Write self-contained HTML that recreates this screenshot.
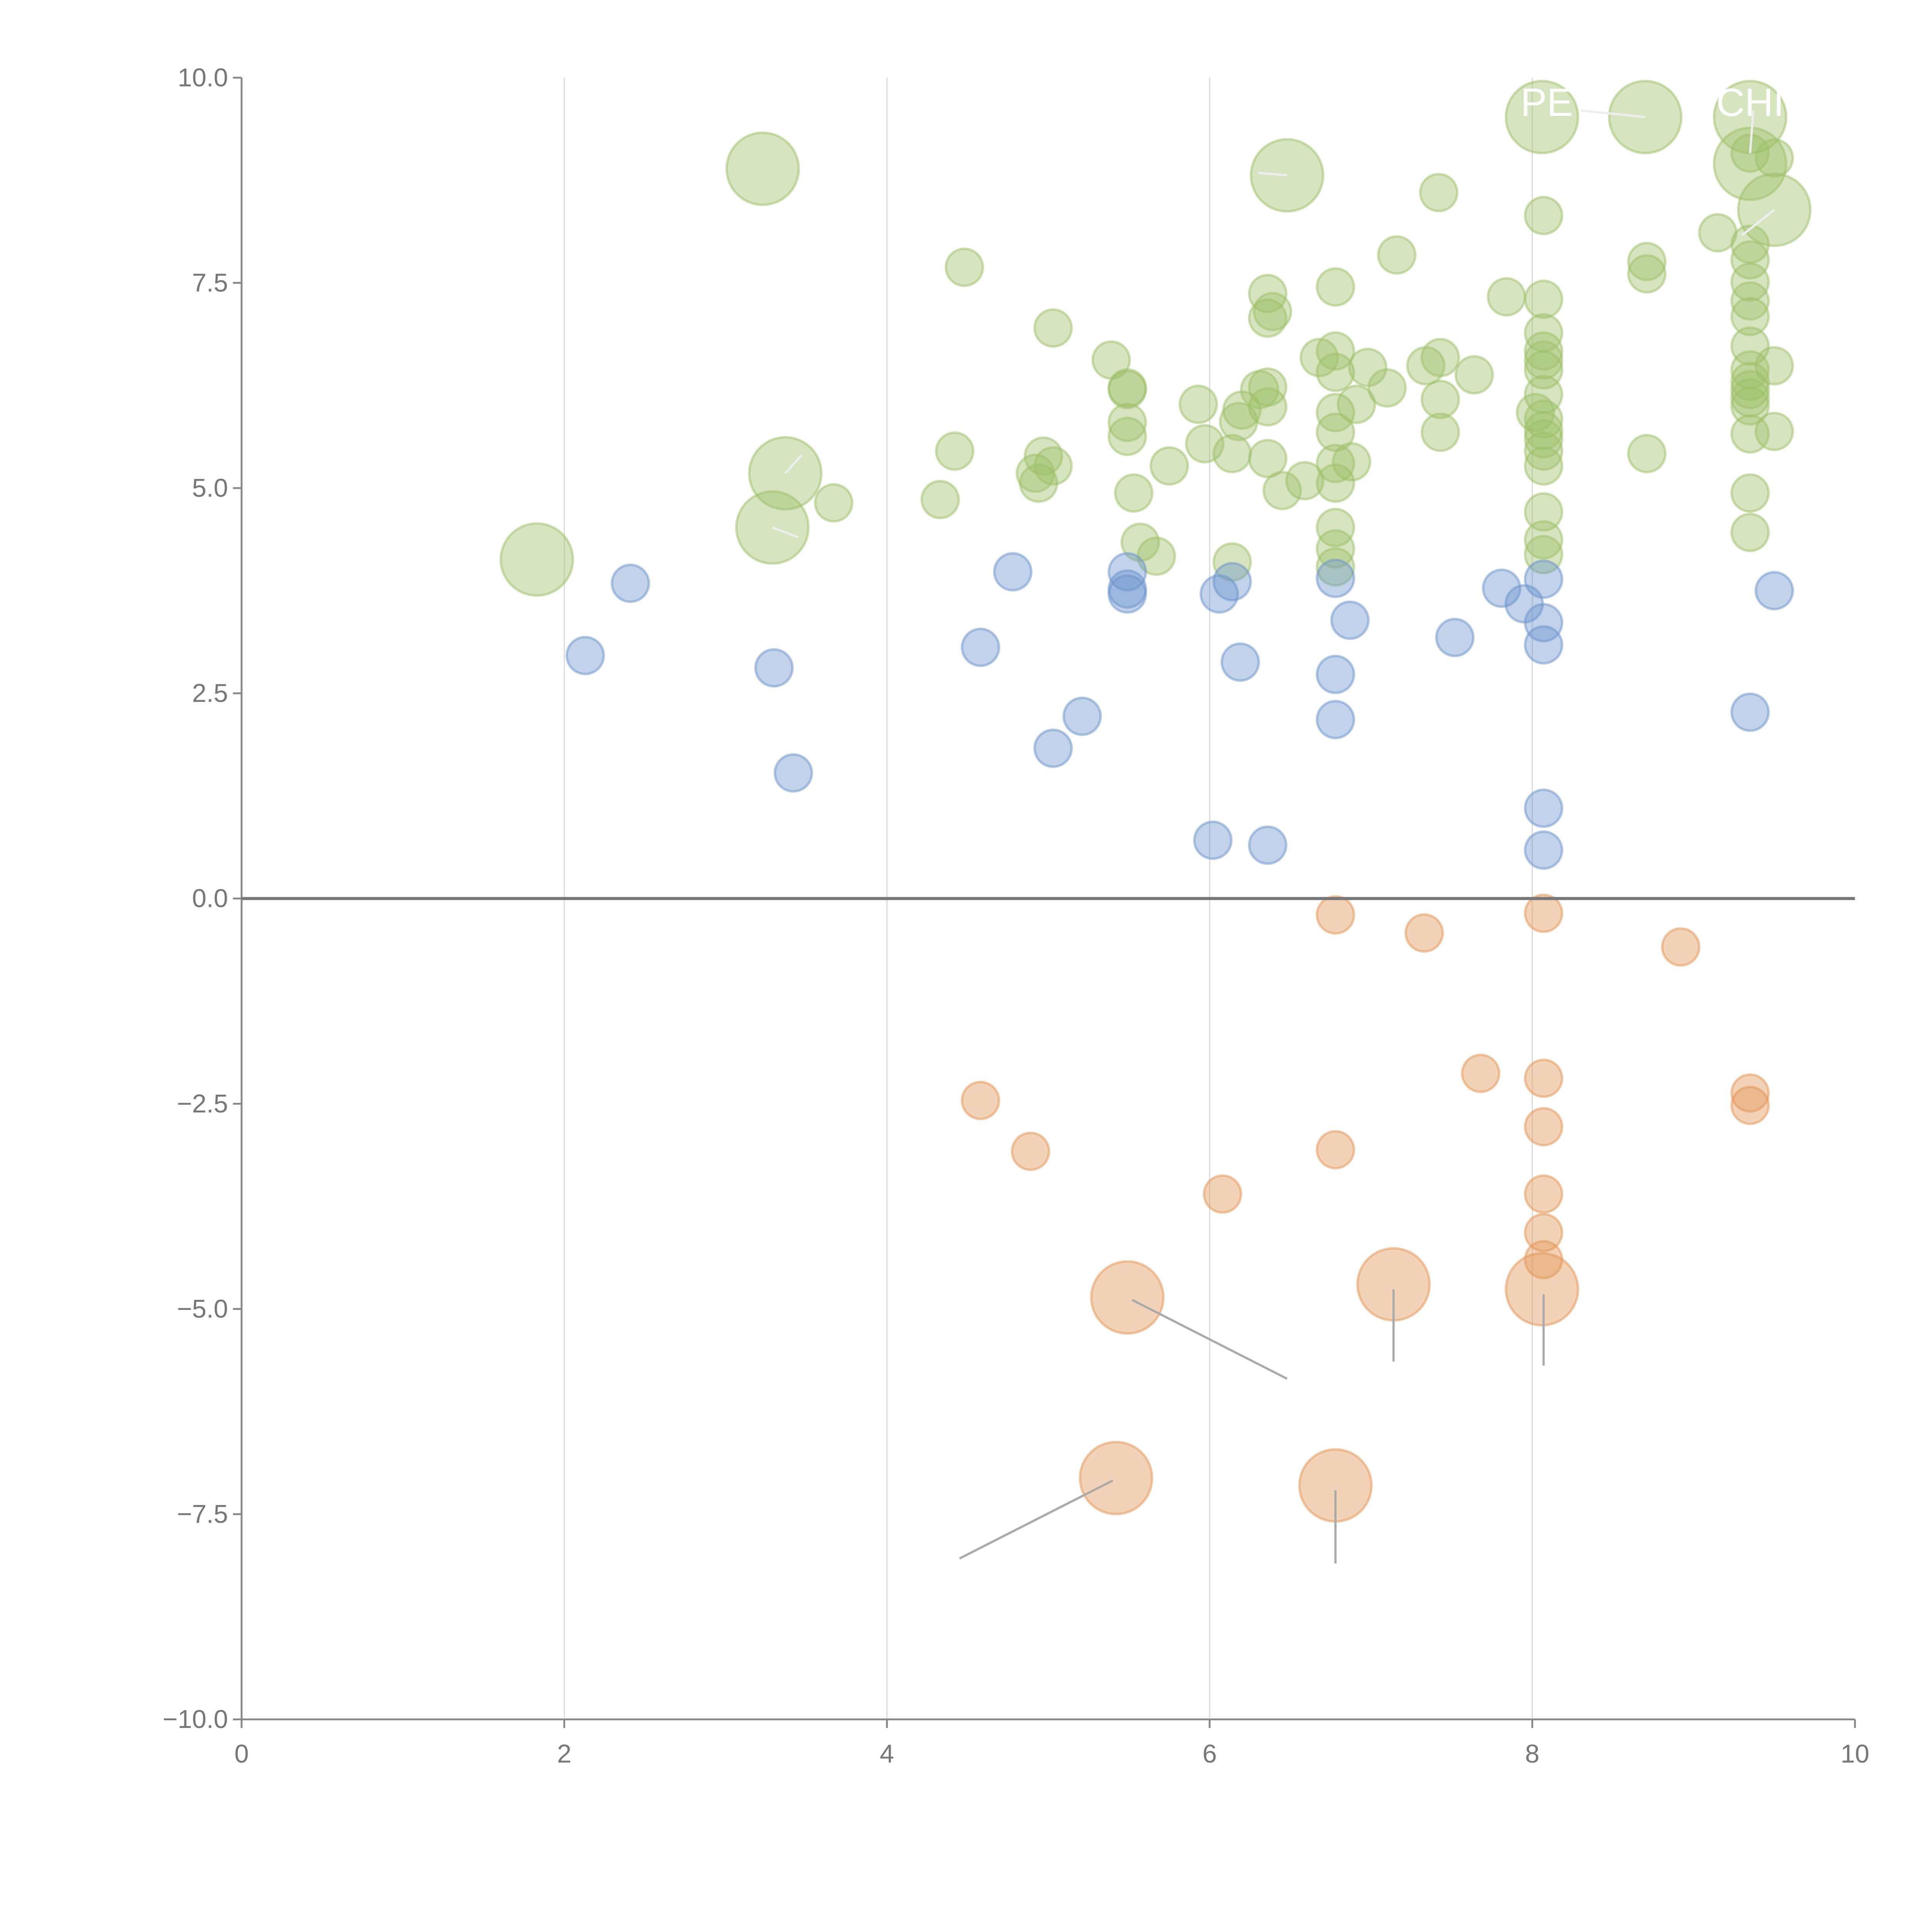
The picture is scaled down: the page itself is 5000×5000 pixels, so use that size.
<!DOCTYPE html>
<html><head><meta charset="utf-8"><style>
html,body{margin:0;padding:0;background:#fff;}
svg{display:block;}
text{font-family:"Liberation Sans",sans-serif;}
</style></head><body>
<svg id="chart" width="5000" height="5000" viewBox="0 0 1567.5 1567.5" xmlns="http://www.w3.org/2000/svg">
<g id="grid"></g>
<g id="bubbles"></g>
<g id="axes"></g>
</svg>
<script>
const xTicks=[0,2,4,6,8,10];
const yTicks=[10,7.5,5,2.5,0,-2.5,-5,-7.5,-10];
const yTickLabels=["10.0","7.5","5.0","2.5","0.0","\u22122.5","\u22125.0","\u22127.5","\u221210.0"];
const blueX=[2.41,2.13,3.30,3.42,4.58,4.78,5.03,5.21,5.49,5.49,5.49,6.06,6.14,6.19,6.02,6.36,6.78,6.78,6.78,6.87,7.52,7.81,7.95,8.07,8.07,8.07,8.07,8.07,9.35,9.50];
const blueY=[3.84,2.96,2.81,1.53,3.06,3.98,1.83,2.22,3.98,3.77,3.71,3.71,3.86,2.88,0.71,0.65,3.90,2.73,2.18,3.39,3.18,3.78,3.59,3.89,3.36,3.09,1.10,0.59,2.27,3.75];
const orangeX=[6.78,7.33,8.07,8.92,4.58,4.89,6.08,6.78,7.68,8.07,8.07,8.07,8.07,8.07,9.35,9.35,5.49,7.14,8.06,5.42,6.78];
const orangeY=[-0.20,-0.42,-0.18,-0.59,-2.46,-3.08,-3.60,-3.06,-2.13,-2.19,-2.78,-3.60,-4.07,-4.40,-2.37,-2.52,-4.86,-4.70,-4.76,-7.06,-7.15];
const orangeSize=[1,1,1,1,1,1,1,1,1,1,1,1,1,1,1,1,3.8,3.8,3.8,3.8,3.8];
const greenX=[3.23,6.48,3.37,3.29,1.83,8.06,8.70,9.35,9.35,9.50,
4.48,5.03,5.39,5.49,5.49,5.49,5.49,5.53,5.57,5.67,4.42,4.33,3.67,4.97,4.92,4.94,5.03,5.75,5.93,5.97,6.14,6.14,6.18,6.20,6.31,6.36,6.36,6.36,6.36,6.39,6.36,6.45,6.59,6.68,
6.78,6.78,6.78,6.78,6.78,6.78,6.78,6.78,6.78,6.78,6.88,6.91,6.98,7.10,7.16,7.42,7.34,7.43,7.43,7.43,7.64,7.84,8.02,
8.07,8.07,8.07,8.07,8.07,8.07,8.07,8.07,8.07,8.07,8.07,8.07,8.07,8.07,8.07,
8.71,8.71,8.71,9.15,9.35,9.35,9.35,9.35,9.35,9.35,9.35,9.35,9.35,9.35,9.35,9.35,9.35,9.35,9.50,9.50,9.50,9.35];
const greenY=[8.89,8.81,5.18,4.52,4.13,9.52,9.52,9.52,8.95,8.39,
7.69,6.95,6.56,6.22,6.20,5.80,5.63,4.94,4.34,4.17,5.45,4.86,4.82,5.39,5.18,5.06,5.27,5.27,6.02,5.54,5.42,4.10,5.81,5.95,6.20,6.23,5.99,7.37,7.07,7.15,5.36,4.97,5.09,6.59,
7.45,6.67,6.41,5.92,5.68,5.30,5.06,4.52,4.26,4.04,5.32,6.02,6.47,6.22,7.84,8.60,6.49,6.59,6.08,5.68,6.38,7.33,5.92,
8.32,7.30,6.89,6.67,6.56,6.44,6.14,5.84,5.60,5.45,5.27,4.71,4.37,4.19,5.70,
7.76,7.61,5.42,8.11,7.97,7.78,7.51,7.28,7.09,6.73,6.44,6.30,6.20,6.10,6.00,5.66,4.94,4.46,6.49,5.69,9.02,9.08];
const greenSize=greenX.map((_,i)=>i<10?3.8:1);
const blueSize=blueX.map(()=>1);

const X0=196,X1=1505,Y0=1395,Y1=63;
const sx=v=>X0+(v-0)/(10-0)*(X1-X0);
const sy=v=>Y0-(v+10)/20*(Y0-Y1);
const sr=s=>15*Math.sqrt(s);
const NS="http://www.w3.org/2000/svg";
function mk(tag,attrs,parent){const e=document.createElementNS(NS,tag);for(const k in attrs)e.setAttribute(k,attrs[k]);parent.appendChild(e);return e;}
const grid=document.getElementById('grid'),bub=document.getElementById('bubbles'),axes=document.getElementById('axes');

xTicks.forEach(t=>{if(t>0&&t<10){const l=mk('line',{x1:sx(t),x2:sx(t),y1:Y1,y2:Y0,stroke:'#dcdcdc','stroke-width':1},grid);

}});

function series(xs,ys,ss,color,name){
  xs.forEach((x,i)=>{const c=mk('circle',{cx:sx(x),cy:sy(ys[i]),r:sr(ss[i]),fill:color,'fill-opacity':0.42,stroke:color,'stroke-opacity':0.5,'stroke-width':2},bub);
  
  });
}
series(greenX,greenY,greenSize,'#9dc068','green-bubble');
series(blueX,blueY,blueSize,'#6b93cc','blue-bubble');
series(orangeX,orangeY,orangeSize,'#e39655','orange-bubble');

const leaders=[[5.52,-4.89,6.48,-5.85,'#aaa'],[7.14,-4.76,7.14,-5.64,'#aaa'],[8.07,-4.82,8.07,-5.69,'#aaa'],[5.40,-7.09,4.45,-8.04,'#aaa'],[6.78,-7.21,6.78,-8.10,'#aaa'],
[3.37,5.18,3.47,5.40,'#eee'],[3.29,4.52,3.45,4.40,'#eee'],[6.48,8.81,6.30,8.84,'#eee'],[8.70,9.52,8.30,9.60,'#eee'],[9.35,9.08,9.37,9.60,'#eee'],[9.50,8.39,9.30,8.08,'#eee']];
leaders.forEach(d=>{const l=mk('line',{x1:sx(d[0]),y1:sy(d[1]),x2:sx(d[2]),y2:sy(d[3]),stroke:d[4],'stroke-width':1.8},bub);

});
[['PE',1255,94],['CHI',1420,94]].forEach(d=>{const t=mk('text',{x:d[1],y:d[2],'text-anchor':'middle','font-size':32,fill:'#fff'},bub);t.textContent=d[0];

});

let a=mk('line',{x1:X0,x2:X0,y1:Y1,y2:Y0,stroke:'#888','stroke-width':1.5},axes);


a=mk('line',{x1:X0,x2:X1,y1:Y0,y2:Y0,stroke:'#888','stroke-width':1.5},axes);


a=mk('line',{x1:X0,x2:X1,y1:sy(0),y2:sy(0),stroke:'#777','stroke-width':2.5},axes);


yTicks.forEach((t,i)=>{const tk=mk('line',{x1:X0-7,x2:X0,y1:sy(t),y2:sy(t),stroke:'#888','stroke-width':1.5},axes);


const tx=mk('text',{x:X0-11,y:sy(t)+7,'text-anchor':'end','font-size':21,fill:'#777'},axes);tx.textContent=yTickLabels[i];

});
xTicks.forEach(t=>{const tk=mk('line',{x1:sx(t),x2:sx(t),y1:Y0,y2:Y0+7,stroke:'#888','stroke-width':1.5},axes);


const tx=mk('text',{x:sx(t),y:Y0+35,'text-anchor':'middle','font-size':21,fill:'#777'},axes);tx.textContent=String(t);

});
</script>
</body></html>
